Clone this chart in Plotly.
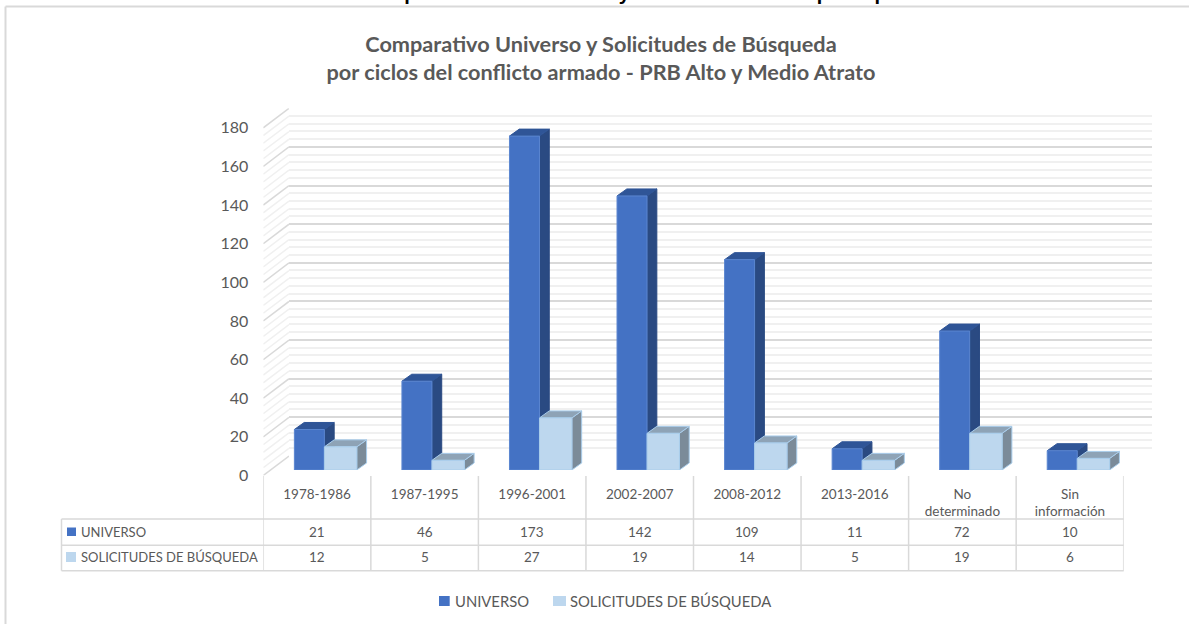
import numpy as np
import plotly.graph_objects as go

categories = ["1978-1986", "1987-1995", "1996-2001", "2002-2007", "2008-2012", "2013-2016", "No<br>determinado", "Sin<br>información"]
universo = [21, 46, 173, 142, 109, 11, 72, 10]
solicitudes = [12, 5, 27, 19, 14, 5, 19, 6]
series_names = ["UNIVERSO", "SOLICITUDES DE BÚSQUEDA"]
value_ticks = list(range(0, 181, 20))
title_text = "Comparativo Universo y Solicitudes de Búsqueda<br>por ciclos del conflicto armado - PRB Alto y Medio Atrato"
heading_text = "Gráfica 4. Análisis de comparación del Universo y solicitudes de búsqueda por ciclos del conflicto armado"

W, H = 1189, 624
FONT = "Lato"
TXT = "#595959"
GRID = "#D9D9D9"
MINOR = "#F0F0F0"
DARK, DARK_SIDE, DARK_TOP, DARK_EDGE = "#4472C4", "#2A4A82", "#2F5597", "#5B86D0"
LIGHT, LIGHT_SIDE, LIGHT_TOP, LIGHT_EDGE = "#BDD7EE", "#7B8B99", "#8EA3B6", "#A9CDEB"

PX_PER_UNIT = 1.93
PLOT_H = 180 * PX_PER_UNIT
TABLE_L, TABLE_X0, TABLE_X1 = 61.5, 263.3, 1123.7
CAT_W = (TABLE_X1 - TABLE_X0) / len(categories)
DEPTH_X, DEPTH_Y = 9.8 / CAT_W, 7 / PX_PER_UNIT
WALL_DY = 19.5 / PX_PER_UNIT

D_OFF, D_W = -22.7 / CAT_W, 30 / CAT_W
L_OFF, L_W = 7.3 / CAT_W, 32.4 / CAT_W


def px(x):
    return x / W


def py(y):
    return 1 - y / H


def side_polys(values, off, w):
    xs, ys = [], []
    for i, v in enumerate(values):
        r = i + off + w
        xs += [r, r + DEPTH_X, r + DEPTH_X, r, r, None]
        ys += [0, DEPTH_Y, v + DEPTH_Y, v, 0, None]
    return xs, ys


def top_polys(values, off, w):
    xs, ys = [], []
    for i, v in enumerate(values):
        l, r = i + off, i + off + w
        xs += [l, l + DEPTH_X, r + DEPTH_X, r, l, None]
        ys += [v, v + DEPTH_Y, v + DEPTH_Y, v, v, None]
    return xs, ys


fig = go.Figure()

fig.add_trace(go.Scatter(x=[0, 1], y=[0, 180], mode="lines", line=dict(width=0), xaxis="x", yaxis="y",
                         showlegend=False, hoverinfo="skip"))

for v in range(0, 181, 4):
    major = v % 20 == 0
    fig.add_trace(go.Scatter(x=[0, 1], y=[v, v + WALL_DY], mode="lines",
                             line=dict(color=GRID if major else MINOR, width=1.5), xaxis="x2", yaxis="y2",
                             showlegend=False, hoverinfo="skip"))

faces = [
    (side_polys(universo, D_OFF, D_W), DARK_SIDE, DARK_SIDE),
    (top_polys(universo, D_OFF, D_W), DARK_TOP, DARK_TOP),
    (side_polys(solicitudes, L_OFF, L_W), LIGHT_SIDE, LIGHT_EDGE),
    (top_polys(solicitudes, L_OFF, L_W), LIGHT_TOP, LIGHT_EDGE),
]
for (xs, ys), fc, lc in faces:
    fig.add_trace(go.Scatter(x=xs, y=ys, mode="lines", fill="toself", fillcolor=fc, line=dict(color=lc, width=1),
                             xaxis="x3", yaxis="y3", showlegend=False, hoverinfo="skip"))

idx = np.arange(len(categories))
fig.add_trace(go.Bar(x=idx, y=universo, name=series_names[0], width=D_W, offset=D_OFF, showlegend=False,
                     marker=dict(color=DARK, line=dict(color=DARK_EDGE, width=1)), xaxis="x4", yaxis="y4"))
fig.add_trace(go.Bar(x=idx, y=solicitudes, name=series_names[1], width=L_W, offset=L_OFF, showlegend=False,
                     marker=dict(color=LIGHT, line=dict(color=LIGHT_EDGE, width=1)), xaxis="x4", yaxis="y4"))

hidden = dict(visible=False, showgrid=False, zeroline=False)
BACK_TOP = 108.3
BACK_BASE = BACK_TOP + PLOT_H
FRONT_BASE = 475.5
BAR_BASE = 470.0
x_dom = [px(TABLE_X0), px(TABLE_X1)]

fig.update_layout(
    width=W, height=H, margin=dict(l=0, r=0, t=0, b=0, autoexpand=False), autosize=False,
    paper_bgcolor="white", plot_bgcolor="rgba(0,0,0,0)",
    font=dict(family=FONT, color=TXT), barmode="overlay",
    title=dict(text=title_text, x=601 / W, xanchor="center", y=py(52), yanchor="middle", yref="container",
               font=dict(family=FONT, size=21.7, color=TXT, weight="bold")),
    showlegend=False,
    xaxis=dict(domain=[px(289), px(1151.5)], range=[0, 1], **hidden),
    yaxis=dict(domain=[py(BACK_BASE), py(BACK_TOP)], range=[0, 180], visible=True, showticklabels=False, ticks="",
               showline=False, zeroline=False, showgrid=True, gridcolor=GRID, gridwidth=1.5, dtick=20, tick0=0,
               minor=dict(dtick=4, tick0=0, showgrid=True, gridcolor=MINOR, gridwidth=1.5), anchor="x"),
    xaxis2=dict(domain=[px(TABLE_X0), px(289)], range=[0, 1], anchor="y2", **hidden),
    yaxis2=dict(domain=[py(FRONT_BASE), py(BACK_TOP)], range=[0, 180 + WALL_DY], anchor="x2", showgrid=False,
                zeroline=False, showline=False, tickmode="array", tickvals=value_ticks, ticks="",
                ticklabelstandoff=14, tickfont=dict(family=FONT, size=16, color=TXT)),
    xaxis3=dict(domain=x_dom, range=[-0.5, 7.5], anchor="y3", **hidden),
    yaxis3=dict(domain=[py(BAR_BASE), py(BAR_BASE - PLOT_H)], range=[0, 180], anchor="x3", **hidden),
    xaxis4=dict(domain=x_dom, range=[-0.5, 7.5], anchor="y4", showgrid=False, zeroline=False, showline=False,
                tickmode="array", tickvals=list(idx), ticktext=categories, ticks="", tickangle=0,
                ticklabelstandoff=14, tickfont=dict(family=FONT, size=13.5, color=TXT)),
    yaxis4=dict(domain=[py(BAR_BASE), py(BAR_BASE - PLOT_H)], range=[0, 180], anchor="x4", **hidden),
)

line_frame = dict(color="#D9D9D9", width=2)
shapes = [
    dict(type="line", xref="paper", yref="paper", x0=px(5.5), x1=1, y0=py(6.5), y1=py(6.5), line=line_frame),
    dict(type="line", xref="paper", yref="paper", x0=px(5.5), x1=px(5.5), y0=py(6.5), y1=0, line=line_frame),
]
line_tbl = dict(color=GRID, width=1.5)
ROW_Y = [519, 545.3, 570.7]
for y in ROW_Y:
    shapes.append(dict(type="line", xref="paper", yref="paper", x0=px(TABLE_L), x1=px(TABLE_X1), y0=py(y), y1=py(y), line=line_tbl))
shapes.append(dict(type="line", xref="paper", yref="paper", x0=px(TABLE_L), x1=px(TABLE_L), y0=py(519), y1=py(570.7), line=line_tbl))
for i in range(len(categories) + 1):
    shapes.append(dict(type="line", xref="x4", yref="paper", x0=i - 0.5, x1=i - 0.5, y0=py(476), y1=py(570.7), line=line_tbl))


def key(x0, x1, y0, y1, color):
    return dict(type="rect", xref="paper", yref="paper", x0=px(x0), x1=px(x1), y0=py(y0), y1=py(y1), fillcolor=color, line=dict(width=0))


shapes += [key(67, 76, 527.5, 536, DARK), key(66, 76, 552, 562, LIGHT),
           key(439, 449.7, 596, 606, DARK), key(553, 566, 596, 606, LIGHT)]
fig.update_layout(shapes=shapes)

ann = []
for vals, name, yc in zip([universo, solicitudes], series_names, [531.7, 557.2]):
    ann.append(dict(text=name, xref="paper", yref="paper", x=px(79), y=py(yc), xanchor="left", yanchor="middle",
                    showarrow=False, font=dict(family=FONT, size=13, color=TXT)))
    for i, v in enumerate(vals):
        ann.append(dict(text=str(v), xref="x4", yref="paper", x=i, y=py(yc), xanchor="center", yanchor="middle",
                        showarrow=False, font=dict(family=FONT, size=13.5, color=TXT)))
for name, x0 in zip(series_names, [453, 568]):
    ann.append(dict(text=name, xref="paper", yref="paper", x=px(x0), y=py(600.5), xanchor="left", yanchor="middle",
                    showarrow=False, font=dict(family=FONT, size=14.8, color=TXT)))
ann.append(dict(text=heading_text, xref="paper", yref="paper", x=px(1172), y=py(6), xanchor="right", yanchor="bottom",
                showarrow=False, font=dict(family="Liberation Sans", size=20, color="black", weight="bold")))
fig.update_layout(annotations=ann)

fig.write_html("out.html", config=dict(displayModeBar=False),
               post_script="document.body.style.margin='0';document.body.style.overflow='hidden';")
